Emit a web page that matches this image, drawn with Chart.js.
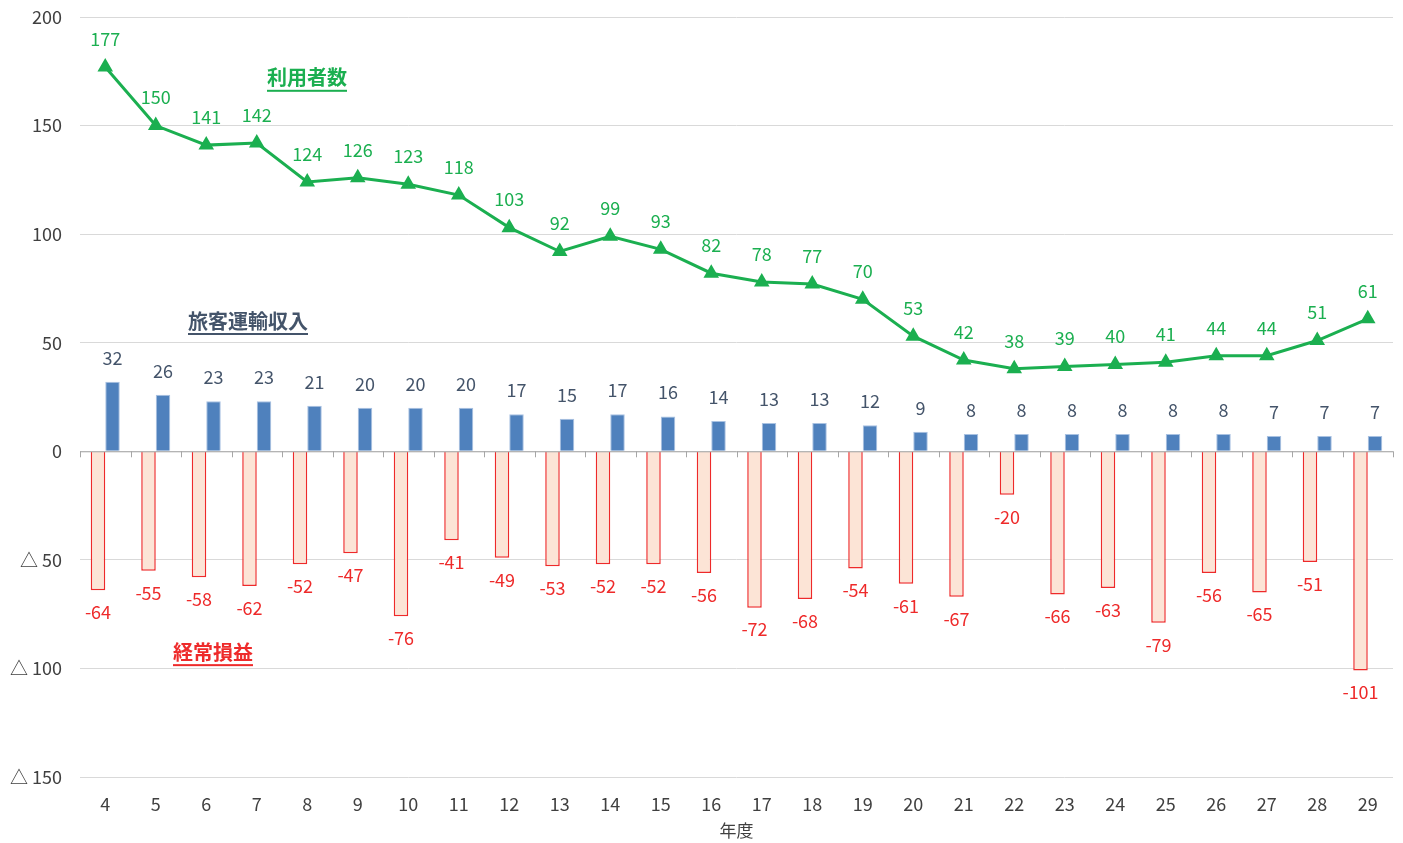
<!DOCTYPE html>
<html>
<head>
<meta charset="utf-8">
<script src="https://cdn.jsdelivr.net/npm/chart.js@4"></script>
<style>
  html, body { margin: 0; padding: 0; background: #fff; }
  #wrap { width: 1403px; height: 843px; }
</style>
</head>
<body>
<div id="wrap"><canvas id="myChart"></canvas></div>
<script>
const years = ['4','5','6','7','8','9','10','11','12','13','14','15','16','17','18','19','20','21','22','23','24','25','26','27','28','29'];
const users = [177,150,141,142,124,126,123,118,103,92,99,93,82,78,77,70,53,42,38,39,40,41,44,44,51,61];
const revenue = [32,26,23,23,21,20,20,20,17,15,17,16,14,13,13,12,9,8,8,8,8,8,8,7,7,7];
const profit = [-64,-55,-58,-62,-52,-47,-76,-41,-49,-53,-52,-52,-56,-72,-68,-54,-61,-67,-20,-66,-63,-79,-56,-65,-51,-101];
const yTicks = [200,150,100,50,0,-50,-100,-150];

const FONT = '"Noto Sans CJK JP", "Noto Sans", sans-serif';
const GREEN = '#1BAF50';
const SLATE = '#44546A';
const RED = '#EE2A2A';

const labelPlugin = {
    id: 'labels',
    afterDatasetsDraw(chart) {
        const ctx = chart.ctx;
        ctx.save();
        ctx.font = '18px ' + FONT;
        ctx.textAlign = 'center';
        ctx.textBaseline = 'middle';
        chart.data.datasets.forEach((ds, i) => {
            const meta = chart.getDatasetMeta(i);
            meta.data.forEach((el, j) => {
                const v = ds.data[j];
                ctx.fillStyle = ds.labelColor;
                if (ds.type === 'line') {
                    ctx.fillText(v, el.x, el.y - 28);
                } else if (v >= 0) {
                    ctx.fillText(v, el.x, el.y - 24);
                } else {
                    ctx.fillText(v, el.x, el.y + 22);
                }
            });
        });

        // x tick marks on the zero line
        const y = chart.scales.y;
        const y0 = y.getPixelForValue(0);
        ctx.strokeStyle = '#A6A6A6';
        ctx.lineWidth = 1;
        ctx.beginPath();
        ctx.moveTo(chart.chartArea.left, y0 + 0.5);
        ctx.lineTo(chart.chartArea.right, y0 + 0.5);
        const step = (chart.chartArea.right - chart.chartArea.left) / years.length;
        for (let k = 0; k <= years.length; k++) {
            const px = Math.round(chart.chartArea.left + k * step) + 0.5;
            ctx.moveTo(px, y0);
            ctx.lineTo(px, y0 + 6);
        }
        ctx.stroke();

        // series names
        ctx.font = 'bold 20px ' + FONT;
        const notes = [
            ['利用者数', 172, GREEN],
            ['旅客運輸収入', 60, SLATE],
            ['経常損益', -92.5, RED]
        ];
        notes.forEach(([t, v, c], k) => {
            const cx = [307, 248, 213][k];
            const cy = y.getPixelForValue(v);
            ctx.fillStyle = c;
            ctx.fillText(t, cx, cy);
            const w = ctx.measureText(t).width;
            ctx.fillRect(cx - w / 2, cy + 12, w, 2);
        });
        ctx.restore();
    }
};

const ctx = document.getElementById('myChart').getContext('2d');
new Chart(ctx, {
    data: {
        labels: years,
        datasets: [
            {
                type: 'line',
                data: users,
                borderColor: GREEN,
                backgroundColor: GREEN,
                borderWidth: 3,
                pointStyle: 'triangle',
                pointRadius: 6,
                pointHoverRadius: 6,
                labelColor: GREEN,
                order: 0
            },
            {
                type: 'bar',
                data: profit,
                backgroundColor: '#FCE4D6',
                borderColor: RED,
                borderWidth: 1.5,
                labelColor: RED,
                order: 1
            },
            {
                type: 'bar',
                data: revenue,
                backgroundColor: '#4F81BD',
                borderColor: '#A9C2E2',
                borderWidth: 1,
                labelColor: SLATE,
                order: 2
            }
        ]
    },
    options: {
        responsive: true,
        maintainAspectRatio: false,
        animation: false,
        layout: { padding: { top: 17, right: 10, left: 0, bottom: 2 } },
        datasets: {
            bar: { categoryPercentage: 0.575, barPercentage: 1, grouped: true }
        },
        plugins: {
            legend: { display: false },
            tooltip: { enabled: false }
        },
        scales: {
            x: {
                grid: { display: false },
                border: { display: false },
                ticks: { color: '#404040', font: { family: FONT, size: 18 }, padding: 8 },
                title: { display: true, text: '年度', color: '#404040', font: { family: FONT, size: 17 }, padding: { top: -2, bottom: 0 } }
            },
            y: {
                min: -150,
                max: 200,
                afterBuildTicks(scale) {
                    scale.ticks = yTicks.map(v => ({ value: v }));
                },
                afterFit(scale) {
                    scale.width = 80;
                    scale.paddingTop = 0;
                    scale.paddingBottom = 0;
                },
                grid: { color: '#D9D9D9', drawTicks: false },
                border: { display: false },
                ticks: {
                    color: '#404040',
                    font: { family: FONT, size: 18 },
                    padding: 18,
                    callback: v => v < 0 ? '△ ' + (-v) : String(v)
                }
            }
        }
    },
    plugins: [labelPlugin]
});
</script>
</body>
</html>
